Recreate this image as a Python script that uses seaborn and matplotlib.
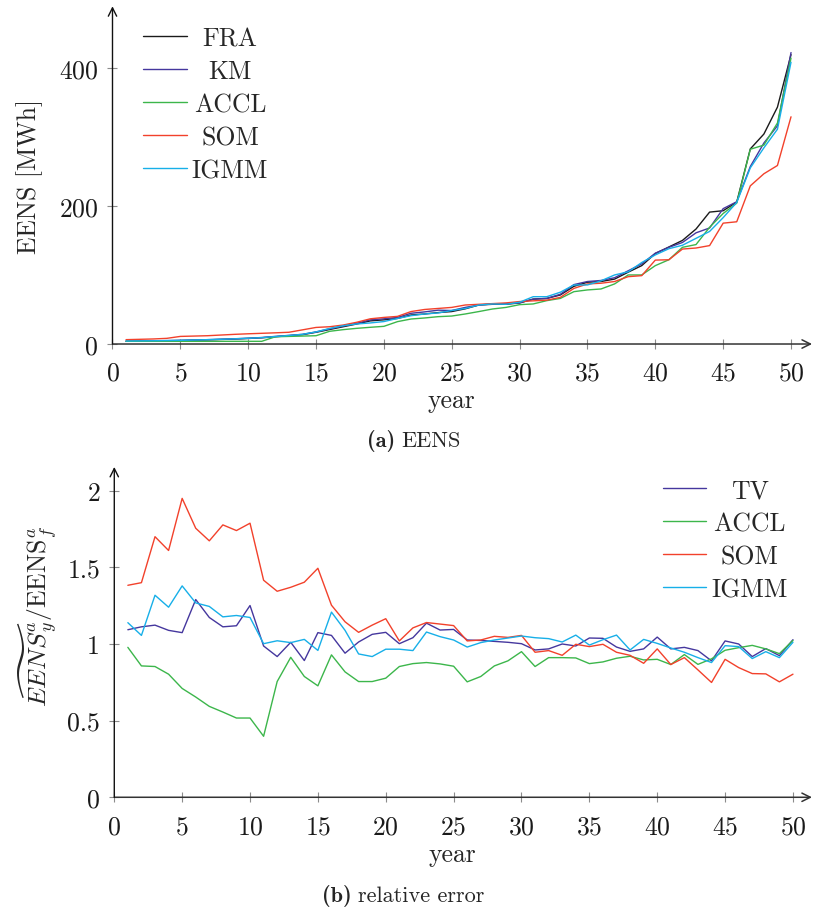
import matplotlib
matplotlib.use("Agg")
import matplotlib.pyplot as plt
import pandas as pd
import seaborn as sns

# ---------------------------------------------------------------- data
years = list(range(1, 51))

# EENS per year [MWh]
eens_fra = [4.0, 4.2, 4.4, 4.7, 5.0, 5.5, 6.0, 6.6, 7.2, 8.0,
            9.0, 10.5, 12.0, 13.5, 17.0, 21.0, 25.0, 29.0, 33.5, 35.0,
            37.0, 42.0, 43.5, 45.5, 47.0, 51.0, 56.5, 57.5, 57.5, 59.5,
            65.0, 66.0, 71.0, 83.5, 89.5, 90.5, 94.0, 104.0, 113.5, 131.0,
            140.5, 150.0, 166.5, 191.0, 193.0, 205.5, 282.5, 304.0, 343.0, 419.0]
eens_km = [4.2, 4.4, 4.6, 4.9, 5.3, 5.8, 6.3, 6.9, 7.6, 8.4,
           9.4, 11.0, 12.5, 14.0, 17.5, 22.0, 26.0, 30.0, 35.0, 36.5,
           38.5, 44.5, 46.5, 49.0, 48.5, 53.0, 56.5, 58.0, 58.5, 59.5,
           65.0, 66.0, 72.0, 86.0, 90.5, 92.0, 96.0, 106.0, 116.0, 131.5,
           140.0, 147.0, 161.0, 168.0, 196.0, 206.0, 257.0, 291.0, 316.0, 422.0]
eens_accl = [3.9, 3.9, 3.9, 3.9, 3.9, 3.9, 3.9, 3.9, 3.9, 3.9,
             3.9, 10.5, 11.0, 11.5, 12.0, 18.4, 20.8, 22.7, 24.2, 25.6,
             32.4, 36.2, 37.7, 39.6, 40.5, 43.5, 47.0, 50.7, 53.0, 57.0,
             58.0, 62.8, 66.0, 75.8, 78.3, 79.7, 87.0, 100.0, 100.0, 113.5,
             122.0, 140.0, 144.0, 169.0, 189.0, 204.0, 282.0, 288.0, 320.0, 414.0]
eens_som = [6.3, 6.8, 7.3, 8.2, 11.0, 11.5, 12.0, 13.0, 14.0, 14.8,
            15.5, 16.2, 17.0, 20.5, 24.0, 25.0, 27.5, 31.5, 36.5, 38.5,
            40.0, 47.0, 50.0, 51.5, 53.0, 56.5, 57.5, 58.5, 59.5, 61.5,
            62.5, 63.5, 67.5, 80.5, 87.0, 88.0, 90.5, 97.5, 99.0, 121.5,
            122.0, 137.5, 139.0, 142.5, 175.0, 177.0, 229.0, 246.5, 258.5, 329.0]
eens_igmm = [4.3, 4.5, 4.7, 5.0, 5.3, 5.8, 6.3, 6.9, 7.5, 8.3,
             9.2, 10.8, 12.3, 14.0, 17.5, 22.5, 26.5, 29.0, 30.5, 32.5,
             37.0, 41.0, 43.5, 45.0, 48.5, 51.5, 56.5, 58.0, 57.5, 60.5,
             68.5, 68.5, 75.0, 85.5, 85.5, 91.5, 100.0, 104.5, 118.0, 129.0,
             138.0, 143.0, 153.0, 163.0, 183.0, 205.0, 255.0, 284.0, 311.0, 408.0]

# relative error of the estimated EENS
rel_tv = [1.093, 1.112, 1.123, 1.089, 1.074, 1.29, 1.173, 1.112, 1.119, 1.251,
          0.987, 0.918, 1.011, 0.892, 1.074, 1.056, 0.94, 1.013, 1.063, 1.076,
          1.002, 1.041, 1.136, 1.091, 1.095, 1.026, 1.023, 1.017, 1.011, 1.002,
          0.961, 0.968, 1.0, 0.987, 1.039, 1.037, 0.98, 0.952, 0.968, 1.045,
          0.968, 0.978, 0.957, 0.89, 1.02, 1.0, 0.918, 0.97, 0.924, 1.028]
rel_accl = [0.978, 0.857, 0.853, 0.803, 0.71, 0.654, 0.593, 0.556, 0.517, 0.517,
            0.398, 0.755, 0.913, 0.788, 0.727, 0.929, 0.818, 0.755, 0.755, 0.777,
            0.853, 0.872, 0.879, 0.87, 0.855, 0.753, 0.788, 0.857, 0.89, 0.95,
            0.853, 0.911, 0.911, 0.909, 0.872, 0.883, 0.907, 0.92, 0.896, 0.90,
            0.866, 0.931, 0.867, 0.903, 0.959, 0.976, 0.991, 0.968, 0.937, 1.023]
rel_som = [1.383, 1.40, 1.70, 1.61, 1.95, 1.755, 1.673, 1.777, 1.74, 1.788,
           1.416, 1.344, 1.37, 1.403, 1.494, 1.253, 1.145, 1.076, 1.123, 1.165,
           1.02, 1.105, 1.14, 1.13, 1.12, 1.02, 1.026, 1.05, 1.043, 1.056,
           0.946, 0.957, 0.926, 0.998, 0.983, 0.998, 0.946, 0.926, 0.874, 0.968,
           0.866, 0.911, 0.831, 0.749, 0.90, 0.846, 0.807, 0.805, 0.753, 0.803]
rel_igmm = [1.139, 1.056, 1.318, 1.24, 1.379, 1.268, 1.245, 1.177, 1.186, 1.173,
            1.002, 1.021, 1.009, 1.03, 0.958, 1.208, 1.089, 0.935, 0.918, 0.966,
            0.966, 0.957, 1.078, 1.048, 1.026, 0.98, 1.009, 1.026, 1.039, 1.052,
            1.041, 1.035, 1.013, 1.058, 0.993, 1.028, 1.058, 0.961, 1.03, 1.004,
            0.974, 0.946, 0.911, 0.879, 0.989, 0.983, 0.905, 0.95, 0.911, 1.011]

colors = {"FRA": "#1a1a1a", "KM": "#45379e", "TV": "#45379e",
          "ACCL": "#3cb64b", "SOM": "#f2412b", "IGMM": "#17afe8"}

top_series = {"FRA": eens_fra, "KM": eens_km, "ACCL": eens_accl,
              "SOM": eens_som, "IGMM": eens_igmm}
bottom_series = {"TV": rel_tv, "ACCL": rel_accl, "SOM": rel_som,
                 "IGMM": rel_igmm}

# ---------------------------------------------------------------- style
sns.set_theme(style="white")
plt.rcParams.update({
    "font.family": ["cmr10", "DejaVu Serif"],
    "mathtext.fontset": "cm",
    "axes.formatter.use_mathtext": True,
    "axes.unicode_minus": False,
})
FS = 18.5
CAP_FS = 16
TICK_GREY = "#8c8c8c"
W, H = 814, 912

fig = plt.figure(figsize=(W / 100, H / 100), dpi=100)
ax1 = fig.add_axes([0.1382, 0.6217, 0.8594, 0.3703])
ax2 = fig.add_axes([0.1404, 0.1247, 0.8571, 0.3622])


def long_frame(series):
    rows = []
    for name, vals in series.items():
        for y, v in zip(years, vals):
            rows.append({"year": y, "value": v, "method": name})
    return pd.DataFrame(rows)


def draw_panel(ax, series):
    df = long_frame(series)
    sns.lineplot(data=df, x="year", y="value", hue="method",
                 hue_order=list(series.keys()),
                 palette=[colors[k] for k in series], linewidth=1.0,
                 ax=ax, legend=True)


def style_axes(ax):
    for side in ("top", "right", "left", "bottom"):
        ax.spines[side].set_visible(False)
    # axis lines with arrow tips
    ax.annotate("", xy=(1, 0), xytext=(0, 0), xycoords="axes fraction",
                arrowprops=dict(arrowstyle="->,head_length=0.5,head_width=0.25",
                                color="#333333", lw=1.1, shrinkA=0, shrinkB=0))
    ax.annotate("", xy=(0, 1), xytext=(0, 0), xycoords="axes fraction",
                arrowprops=dict(arrowstyle="->,head_length=0.5,head_width=0.25",
                                color="#111111", lw=1.0, shrinkA=0, shrinkB=0))
    ax.tick_params(axis="both", which="major", direction="inout", length=7.5,
                   width=0.8, color=TICK_GREY, labelsize=FS, pad=6.5,
                   bottom=True, left=True, labelcolor="#1a1a1a")
    ax.tick_params(axis="x", pad=8.5)
    ax.grid(False)


def centre_legend(ax, x, y):
    leg = ax.legend(loc="upper left", bbox_to_anchor=(x, y), frameon=False,
                    fontsize=FS, handlelength=1.7, handletextpad=0.2,
                    labelspacing=0.36, borderpad=0, borderaxespad=0)
    for line in leg.get_lines():
        line.set_linewidth(1.0)
    return leg


def caption(x_split, y_px, tag, text):
    # bold tag right-aligned, plain text left-aligned at the split point
    y = 1 - y_px / H
    fig.text((x_split - 3) / W, y, tag, ha="right", va="center",
             fontsize=CAP_FS, family="cmb10")
    fig.text((x_split + 3) / W, y, text, ha="left", va="center",
             fontsize=CAP_FS, family="cmr10")


# ---------------------------------------------------------------- (a) EENS
draw_panel(ax1, top_series)
ax1.set_xlim(0, 51.55)
ax1.set_ylim(0, 489)
ax1.set_xticks(range(0, 51, 5))
ax1.set_yticks([0, 200, 400])
style_axes(ax1)
ax1.set_xlabel("year", fontsize=FS)
ax1.set_ylabel("EENS [MWh]", fontsize=FS)
ax1.xaxis.set_label_coords(0.485, -0.13)
ax1.yaxis.set_label_coords(-0.1, 0.5)
leg1 = centre_legend(ax1, 0.0436, 0.94)

# ---------------------------------------------------------------- (b) relative error
draw_panel(ax2, bottom_series)
ax2.set_xlim(0, 51.4)
ax2.set_ylim(0, 2.155)
ax2.set_xticks(range(0, 51, 5))
ax2.set_yticks([0, 0.5, 1, 1.5, 2])
ax2.set_yticklabels(["0", "0.5", "1", "1.5", "2"])
style_axes(ax2)
ax2.set_xlabel("year", fontsize=FS)
ax2.set_ylabel(r"$\widetilde{EENS}^{a}_{y}/\mathrm{EENS}^{a}_{f}$", fontsize=FS)
ax2.xaxis.set_label_coords(0.484, -0.135)
ax2.yaxis.set_label_coords(-0.078, 0.55)
leg2 = centre_legend(ax2, 0.786, 0.965)

caption(398, 441, "(a)", "EENS")
caption(355, 896, "(b)", "relative error")

# centre the legend labels in their column
fig.canvas.draw()
renderer = fig.canvas.get_renderer()
for leg in (leg1, leg2):
    texts = leg.get_texts()
    widths = [t.get_window_extent(renderer).width for t in texts]
    wmax = max(widths)
    for t, w in zip(texts, widths):
        t.set_position(((wmax - w) / 2.0, 0))

fig.savefig("out.png", dpi=100)
